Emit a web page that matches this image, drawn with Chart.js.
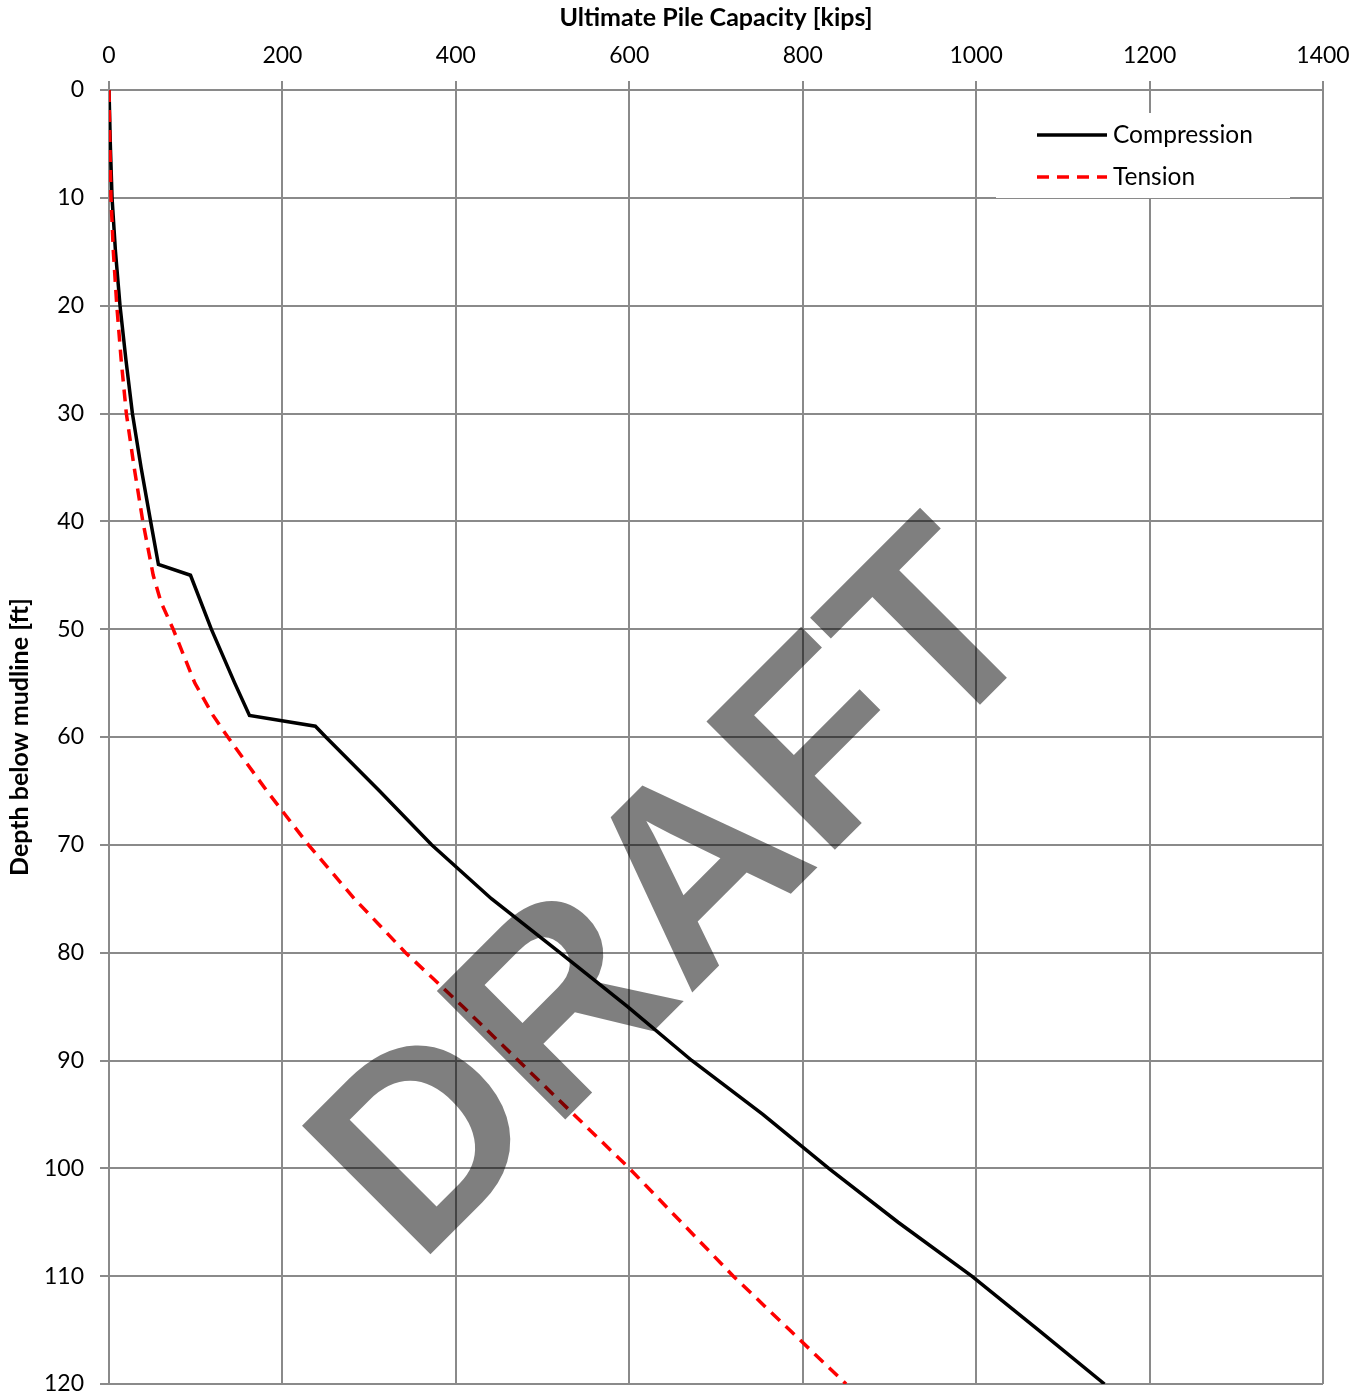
<!DOCTYPE html>
<html>
<head>
<meta charset="utf-8">
<title>Ultimate Pile Capacity</title>
<script src="https://cdn.jsdelivr.net/npm/chart.js@4.4.0/dist/chart.umd.min.js"></script>
<style>
  html, body { margin: 0; padding: 0; background: #fff; }
  #wrap { width: 1369px; height: 1399px; }
</style>
</head>
<body>
<div id="wrap"><canvas id="capacity-chart"></canvas></div>
<script>
// depth below mudline [ft] and capacity [kips]
const compressionDepth = [0, 5, 10, 15, 20, 25, 30, 35, 40, 44, 45, 50, 55, 58, 59, 60, 65, 70, 75, 80, 85, 90, 95, 100, 105, 110, 115, 120];
const compressionKips = [0, 1.5, 3.5, 7.5, 12.7, 19.5, 27, 37, 48, 57, 94, 118, 145, 162, 238, 250, 312, 372, 441, 520, 598, 672, 754, 830, 910, 995, 1072, 1148];

const tensionDepth = [0, 5, 10, 15, 20, 25, 30, 35, 40, 45, 47.5, 50, 55, 58, 60, 65, 70, 75, 80, 85, 90, 95, 100, 105, 110, 115, 120];
const tensionKips = [0, 1, 2.3, 5, 9, 14, 20, 29, 39, 51, 60, 74, 99, 120, 137, 182, 230, 283, 342, 408, 472, 536, 600, 660, 720, 785, 850];

const seriesNames = ['Compression', 'Tension'];
const xTitle = 'Ultimate Pile Capacity [kips]';
const yTitle = 'Depth below mudline [ft]';
const watermarkText = 'DRAFT';

const toPoints = (xs, ys) => xs.map((v, i) => ({ x: v, y: ys[i] }));

const gridColor = '#8a8a8a';
const fontFamily = 'Lato, "Open Sans", sans-serif';

Chart.defaults.font.family = fontFamily;
Chart.defaults.color = '#000';

// legend box drawn inside the plot, top right
const insideLegend = {
  id: 'insideLegend',
  afterDatasetsDraw(chart) {
    const { ctx, chartArea } = chart;
    const w = 294, h = 85;
    const x = chartArea.right - 33 - w;
    const y = chartArea.top + 23;
    ctx.save();
    ctx.fillStyle = '#fff';
    ctx.fillRect(x, y, w, h);
    ctx.font = '24.5px ' + fontFamily;
    ctx.textBaseline = 'middle';
    chart.data.datasets.forEach((ds, i) => {
      const rowY = y + 22 + i * 42;
      ctx.beginPath();
      ctx.strokeStyle = ds.borderColor;
      ctx.lineWidth = ds.borderWidth;
      ctx.setLineDash(ds.borderDash || []);
      ctx.moveTo(x + 41, rowY);
      ctx.lineTo(x + 111, rowY);
      ctx.stroke();
      ctx.setLineDash([]);
      ctx.fillStyle = '#000';
      ctx.fillText(ds.label, x + 117, rowY);
    });
    ctx.restore();
  }
};

// semi-transparent DRAFT stamp over everything
const watermark = {
  id: 'watermark',
  afterDraw(chart) {
    const { ctx, chartArea } = chart;
    const cx = chartArea.left + chartArea.width * 0.515;
    const cy = chartArea.top + chartArea.height * 0.665;
    ctx.save();
    ctx.translate(cx, cy);
    ctx.rotate(-Math.PI / 4);
    ctx.font = 'bold 264px "Liberation Sans", Arial, sans-serif';
    ctx.textAlign = 'center';
    ctx.textBaseline = 'alphabetic';
    ctx.fillStyle = 'rgba(0, 0, 0, 0.5)';
    ctx.fillText(watermarkText, 0, 0);
    ctx.restore();
  }
};

const config = {
  type: 'scatter',
  data: {
    datasets: [
      {
        label: seriesNames[0],
        data: toPoints(compressionKips, compressionDepth),
        showLine: true,
        borderColor: '#000',
        borderWidth: 3.5,
        pointRadius: 0,
        tension: 0,
        order: 2
      },
      {
        label: seriesNames[1],
        data: toPoints(tensionKips, tensionDepth),
        showLine: true,
        borderColor: '#ff0000',
        borderWidth: 3.5,
        borderDash: [12, 8],
        pointRadius: 0,
        tension: 0,
        order: 1
      }
    ]
  },
  options: {
    responsive: true,
    maintainAspectRatio: false,
    animation: false,
    layout: {
      padding: { left: 0, top: 0, right: 46, bottom: 15 }
    },
    plugins: {
      legend: { display: false },
      tooltip: { enabled: false }
    },
    scales: {
      x: {
        type: 'linear',
        position: 'top',
        min: 0,
        max: 1400,
        ticks: {
          stepSize: 200,
          padding: 12,
          font: { size: 23 },
          callback: (v) => String(v)
        },
        grid: { color: gridColor, lineWidth: 2, tickLength: 9 },
        border: { color: gridColor, width: 2 },
        title: {
          display: true,
          text: xTitle,
          font: { size: 25, weight: 'bold' },
          padding: { top: 3, bottom: 0 }
        },
        afterFit(scale) {
          scale.height = 90;
          scale.paddingLeft = 0;
          scale.paddingRight = 0;
        }
      },
      y: {
        type: 'linear',
        reverse: true,
        min: 0,
        max: 120,
        ticks: {
          stepSize: 10,
          padding: 16,
          font: { size: 23 },
          callback: (v) => String(v)
        },
        grid: { color: gridColor, lineWidth: 2, tickLength: 9 },
        border: { color: gridColor, width: 2 },
        title: {
          display: true,
          text: yTitle,
          font: { size: 25, weight: 'bold' },
          padding: { top: 5, bottom: 0 }
        },
        afterFit(scale) {
          scale.width = 109;
          scale.paddingTop = 0;
          scale.paddingBottom = 0;
        }
      }
    }
  },
  plugins: [insideLegend, watermark]
};

document.addEventListener('DOMContentLoaded', function () {
  const ctx = document.getElementById('capacity-chart').getContext('2d');
  new Chart(ctx, config);
});
</script>
</body>
</html>
